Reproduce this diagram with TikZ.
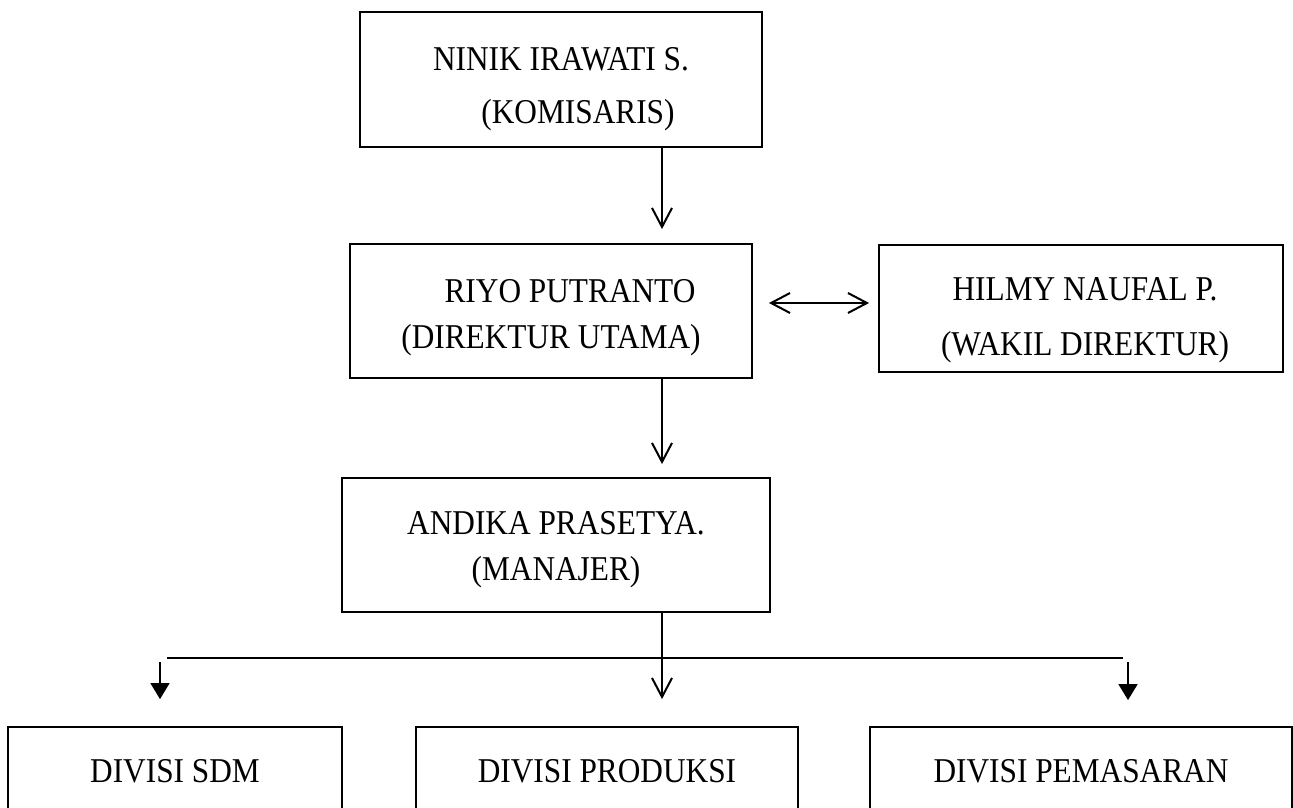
\documentclass[tikz,border=0pt]{standalone}
\usepackage{fontspec}
\setmainfont[FakeStretch=0.9]{Liberation Serif}
\usetikzlibrary{arrows.meta}
\newcommand{\boxstrut}[1]{\rule{0pt}{#1}}

\begin{document}
\begin{tikzpicture}[x=0.5pt, y=-0.5pt,
		box/.style={shape=rectangle, draw=black, line width=0.9pt, inner sep=0pt, align=center, font=\fontsize{17.4}{23}\selectfont},
		openarrow/.style={line width=1pt, -{Straight Barb[length=9.5pt, width=10pt]}},
		fillarrow/.style={line width=0.75pt, -{Triangle[length=8pt, width=9.5pt]}}]
			\useasboundingbox (0,0) rectangle (1293,807);
			\clip (0,0) rectangle (1293,807);
			
			\node[box, minimum width=201pt, minimum height=67.5pt] (kom) at (561,79.5) {\boxstrut{21.5pt}NINIK IRAWATI S.\\[3.5pt]\hspace*{17pt}(KOMISARIS)};
			\node[box, minimum width=201pt, minimum height=67pt] (riyo) at (551,311) {\boxstrut{18.5pt}\hspace*{19pt}RIYO PUTRANTO\\(DIREKTUR UTAMA)};
			\node[box, minimum width=202pt, minimum height=63.5pt] (hilmy) at (1081,308.5) {\boxstrut{23.5pt}\hspace*{4pt}HILMY NAUFAL P.\\[4.5pt]\hspace*{4pt}(WAKIL DIREKTUR)};
			\node[box, minimum width=214pt, minimum height=67pt] (andika) at (556,545) {\boxstrut{16.5pt}ANDIKA PRASETYA.\\(MANAJER)};
			\node[box, minimum width=167pt, minimum height=44pt] (sdm) at (175,771) {DIVISI SDM};
			\node[box, minimum width=191pt, minimum height=44pt] (produksi) at (607,771) {DIVISI PRODUKSI};
			\node[box, minimum width=211pt, minimum height=44pt] (pemasaran) at (1081,771) {DIVISI PEMASARAN};
			
			\coordinate (spine) at (662,0);
			\coordinate (barleft) at (167,658);
			\coordinate (barright) at (1123,658);
			\coordinate (leftarrow) at (160,662);
			\coordinate (rightarrow) at (1128,662);
			
			\draw[openarrow, shorten >=7pt] (kom.south -| spine) -- (riyo.north -| spine);
			\draw[openarrow, shorten >=6.5pt] (riyo.south -| spine) -- (andika.north -| spine);
			\draw[openarrow, shorten >=13.5pt] (andika.south -| spine) -- (produksi.north -| spine);
			\draw[line width=1pt, {Straight Barb[length=9.5pt, width=10pt]}-{Straight Barb[length=9.5pt, width=10pt]}, shorten <=8pt, shorten >=4.5pt] ([yshift=4pt]riyo.east) -- ([yshift=4pt]riyo.east -| hilmy.west);
			\draw[line width=1pt] (barleft) -- (barright);
			\draw[fillarrow, shorten >=13.5pt] (leftarrow) -- (leftarrow |- sdm.north);
			\draw[fillarrow, shorten >=13pt] (rightarrow) -- (rightarrow |- pemasaran.north);
		\end{tikzpicture}
\end{document}
